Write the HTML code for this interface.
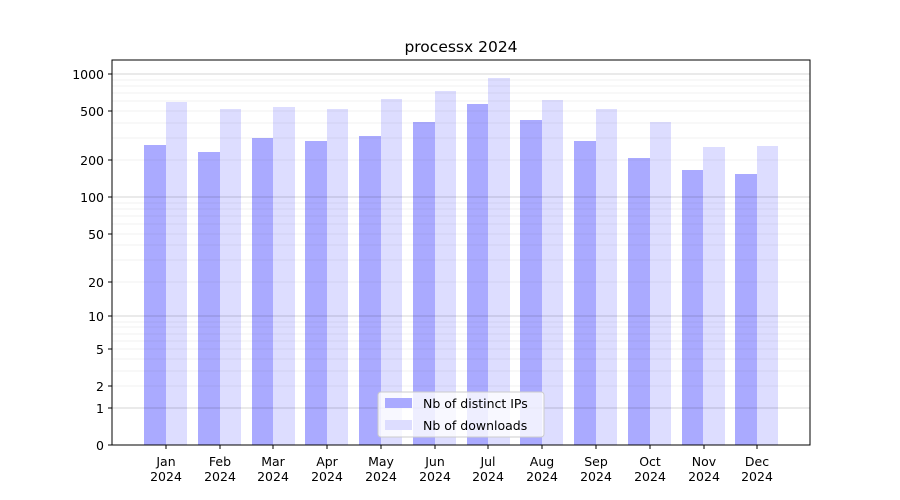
<!DOCTYPE html>
<html><head><style>body{margin:0;background:#fff}svg{display:block}text{font-family:"DejaVu Sans","Liberation Sans",sans-serif;font-size:12.5px;fill:#000}</style></head><body>
<svg width="900" height="500" xmlns="http://www.w3.org/2000/svg">
<rect width="900" height="500" fill="#fff"/>
<g id="b">
<rect x="144" y="145" width="22" height="300" fill="#aaf"/><rect x="166" y="102" width="21" height="343" fill="#ddf"/>
<rect x="198" y="152" width="22" height="293" fill="#aaf"/><rect x="220" y="109" width="21" height="336" fill="#ddf"/>
<rect x="252" y="138" width="21" height="307" fill="#aaf"/><rect x="273" y="107" width="22" height="338" fill="#ddf"/>
<rect x="305" y="141" width="22" height="304" fill="#aaf"/><rect x="327" y="109" width="21" height="336" fill="#ddf"/>
<rect x="359" y="136" width="22" height="309" fill="#aaf"/><rect x="381" y="99" width="21" height="346" fill="#ddf"/>
<rect x="413" y="122" width="22" height="323" fill="#aaf"/><rect x="435" y="91" width="21" height="354" fill="#ddf"/>
<rect x="467" y="104" width="21" height="341" fill="#aaf"/><rect x="488" y="78" width="22" height="367" fill="#ddf"/>
<rect x="520" y="120" width="22" height="325" fill="#aaf"/><rect x="542" y="100" width="21" height="345" fill="#ddf"/>
<rect x="574" y="141" width="22" height="304" fill="#aaf"/><rect x="596" y="109" width="21" height="336" fill="#ddf"/>
<rect x="628" y="158" width="22" height="287" fill="#aaf"/><rect x="650" y="122" width="21" height="323" fill="#ddf"/>
<rect x="682" y="170" width="21" height="275" fill="#aaf"/><rect x="703" y="147" width="22" height="298" fill="#ddf"/>
<rect x="735" y="174" width="22" height="271" fill="#aaf"/><rect x="757" y="146" width="21" height="299" fill="#ddf"/>
</g>
<g stroke="#000" stroke-opacity="0.07" stroke-width="0.8">
<line x1="112" x2="810" y1="386" y2="386"/><line x1="112" x2="810" y1="371" y2="371"/><line x1="112" x2="810" y1="359" y2="359"/><line x1="112" x2="810" y1="349" y2="349"/><line x1="112" x2="810" y1="341" y2="341"/><line x1="112" x2="810" y1="334" y2="334"/><line x1="112" x2="810" y1="327" y2="327"/><line x1="112" x2="810" y1="322" y2="322"/>
<line x1="112" x2="810" y1="282" y2="282"/><line x1="112" x2="810" y1="260" y2="260"/><line x1="112" x2="810" y1="245" y2="245"/><line x1="112" x2="810" y1="234" y2="234"/><line x1="112" x2="810" y1="224" y2="224"/><line x1="112" x2="810" y1="216" y2="216"/><line x1="112" x2="810" y1="209" y2="209"/><line x1="112" x2="810" y1="203" y2="203"/>
<line x1="112" x2="810" y1="160" y2="160"/><line x1="112" x2="810" y1="138" y2="138"/><line x1="112" x2="810" y1="123" y2="123"/><line x1="112" x2="810" y1="111" y2="111"/><line x1="112" x2="810" y1="101" y2="101"/><line x1="112" x2="810" y1="93" y2="93"/><line x1="112" x2="810" y1="86" y2="86"/><line x1="112" x2="810" y1="80" y2="80"/>
</g>
<g stroke="#000" stroke-opacity="0.22" stroke-width="0.8">
<line x1="112" x2="810" y1="408" y2="408"/><line x1="112" x2="810" y1="316" y2="316"/><line x1="112" x2="810" y1="197" y2="197"/><line x1="112" x2="810" y1="74" y2="74"/>
</g>
<rect x="112" y="60" width="698" height="385" fill="none" stroke="#000" stroke-width="1"/>
<text x="461" y="52" text-anchor="middle" style="font-size:15.5px">processx 2024</text>
<g stroke="#000"><line x1="108" x2="112" y1="445" y2="445"/><line x1="108" x2="112" y1="408" y2="408"/><line x1="108" x2="112" y1="386" y2="386"/><line x1="108" x2="112" y1="349" y2="349"/><line x1="108" x2="112" y1="316" y2="316"/><line x1="108" x2="112" y1="282" y2="282"/><line x1="108" x2="112" y1="234" y2="234"/><line x1="108" x2="112" y1="197" y2="197"/><line x1="108" x2="112" y1="160" y2="160"/><line x1="108" x2="112" y1="111" y2="111"/><line x1="108" x2="112" y1="74" y2="74"/></g>
<g text-anchor="end"><text x="104" y="450">0</text><text x="104" y="413">1</text><text x="104" y="391">2</text><text x="104" y="354">5</text><text x="104" y="321">10</text><text x="104" y="287">20</text><text x="104" y="239">50</text><text x="104" y="202">100</text><text x="104" y="165">200</text><text x="104" y="116">500</text><text x="104" y="79">1000</text></g>
<g text-anchor="middle">
<text x="166" y="466">Jan</text><text x="166" y="481">2024</text>
<text x="220" y="466">Feb</text><text x="220" y="481">2024</text>
<text x="273" y="466">Mar</text><text x="273" y="481">2024</text>
<text x="327" y="466">Apr</text><text x="327" y="481">2024</text>
<text x="381" y="466">May</text><text x="381" y="481">2024</text>
<text x="435" y="466">Jun</text><text x="435" y="481">2024</text>
<text x="488" y="466">Jul</text><text x="488" y="481">2024</text>
<text x="542" y="466">Aug</text><text x="542" y="481">2024</text>
<text x="596" y="466">Sep</text><text x="596" y="481">2024</text>
<text x="650" y="466">Oct</text><text x="650" y="481">2024</text>
<text x="704" y="466">Nov</text><text x="704" y="481">2024</text>
<text x="757" y="466">Dec</text><text x="757" y="481">2024</text>
</g>
<g stroke="#000"><line x1="166" x2="166" y1="445" y2="449"/><line x1="220" x2="220" y1="445" y2="449"/><line x1="273" x2="273" y1="445" y2="449"/><line x1="327" x2="327" y1="445" y2="449"/><line x1="381" x2="381" y1="445" y2="449"/><line x1="435" x2="435" y1="445" y2="449"/><line x1="488" x2="488" y1="445" y2="449"/><line x1="542" x2="542" y1="445" y2="449"/><line x1="596" x2="596" y1="445" y2="449"/><line x1="650" x2="650" y1="445" y2="449"/><line x1="704" x2="704" y1="445" y2="449"/><line x1="757" x2="757" y1="445" y2="449"/></g>
<rect x="378" y="392" width="166" height="45" rx="3" fill="#fff" fill-opacity="0.8" stroke="#ccc"/>
<rect x="385" y="398" width="27" height="10" fill="#aaf"/><text x="423" y="408">Nb of distinct IPs</text>
<rect x="385" y="420" width="27" height="10" fill="#ddf"/><text x="423" y="430">Nb of downloads</text>
</svg>
</body></html>
